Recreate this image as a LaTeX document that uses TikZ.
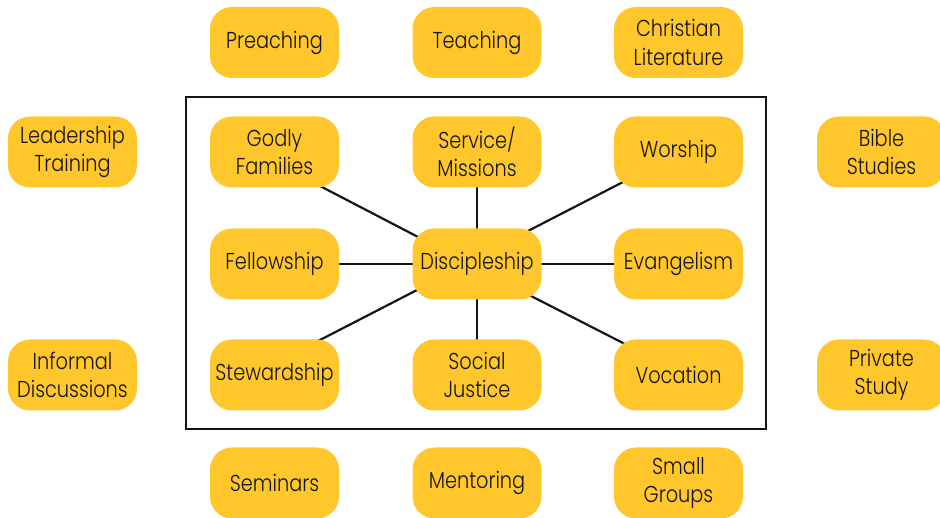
\documentclass[tikz,border=0pt]{standalone}
\usepackage{fontspec}
\setmainfont{Poppins}[FakeStretch=0.84,UprightFont={* Light}]
\usetikzlibrary{backgrounds,calc}
\definecolor{boxyellow}{RGB}{255,199,44}
\definecolor{ink}{RGB}{20,20,20}
\begin{document}
\begin{tikzpicture}[x=1pt,y=1pt,
  item/.style={rectangle, rounded corners=22pt, fill=boxyellow,
    minimum width=129pt, minimum height=71pt, inner sep=0pt,
    align=center, text=ink, font=\fontsize{23}{28.5}\selectfont},
  link/.style={line width=2.2pt, draw=ink},
  frame/.style={line width=2pt, draw=ink}]
\useasboundingbox (0,0) rectangle (940,-518);
\begin{scope}
\clip (0,0) rectangle (940,-518);
% top row
\node[item] (pre) at (274.5,-42.5) {Preaching};
\node[item] (tea) at (477,-42.5) {Teaching};
\node[item] (chr) at (678.5,-42.5) {Christian\\Literature};
% row 1
\node[item] (lea) at (72.5,-152) {Leadership\\Training};
\node[item] (god) at (274.5,-152) {Godly\\Families};
\node[item] (ser) at (477,-152) {Service/\\Missions};
\node[item] (wor) at (678.5,-152) {Worship};
\node[item] (bib) at (881.5,-152) {Bible\\Studies};
% row 2
\node[item] (fel) at (274.5,-264) {Fellowship};
\node[item] (dis) at (477,-264) {Discipleship};
\node[item] (eva) at (678.5,-264) {Evangelism};
% row 3
\node[item] (inf) at (72.5,-375) {Informal\\Discussions};
\node[item] (ste) at (274.5,-375) {Stewardship};
\node[item] (soc) at (477,-375) {Social\\Justice};
\node[item] (voc) at (678.5,-375) {Vocation};
\node[item] (pri) at (881.5,-375) {Private\\Study};
% bottom row
\node[item] (sem) at (274.5,-483) {Seminars};
\node[item] (men) at (477,-483) {Mentoring};
\node[item] (sma) at (678.5,-483) {Small\\Groups};
% frame
\draw[frame] (186,-97) rectangle (766,-429);
\end{scope}
\begin{pgfonlayer}{background}
\draw[link] ($(god.center)+(25.5,-23.6)$) -- ($(dis.center)+(-27,10.4)$);
\draw[link] ($(wor.center)+(-28.5,-16.1)$) -- ($(dis.center)+(23,18.6)$);
\draw[link] ($(ste.center)+(25.5,24.7)$) -- ($(dis.center)+(-27,-9)$);
\draw[link] ($(voc.center)+(-28.5,18.2)$) -- ($(dis.center)+(28,-18.7)$);
\draw[link] (ser.center) -- (dis.center);
\draw[link] (soc.center) -- (dis.center);
\draw[link] (fel.center) -- (dis.center);
\draw[link] (eva.center) -- (dis.center);
\end{pgfonlayer}
\end{tikzpicture}
\end{document}
